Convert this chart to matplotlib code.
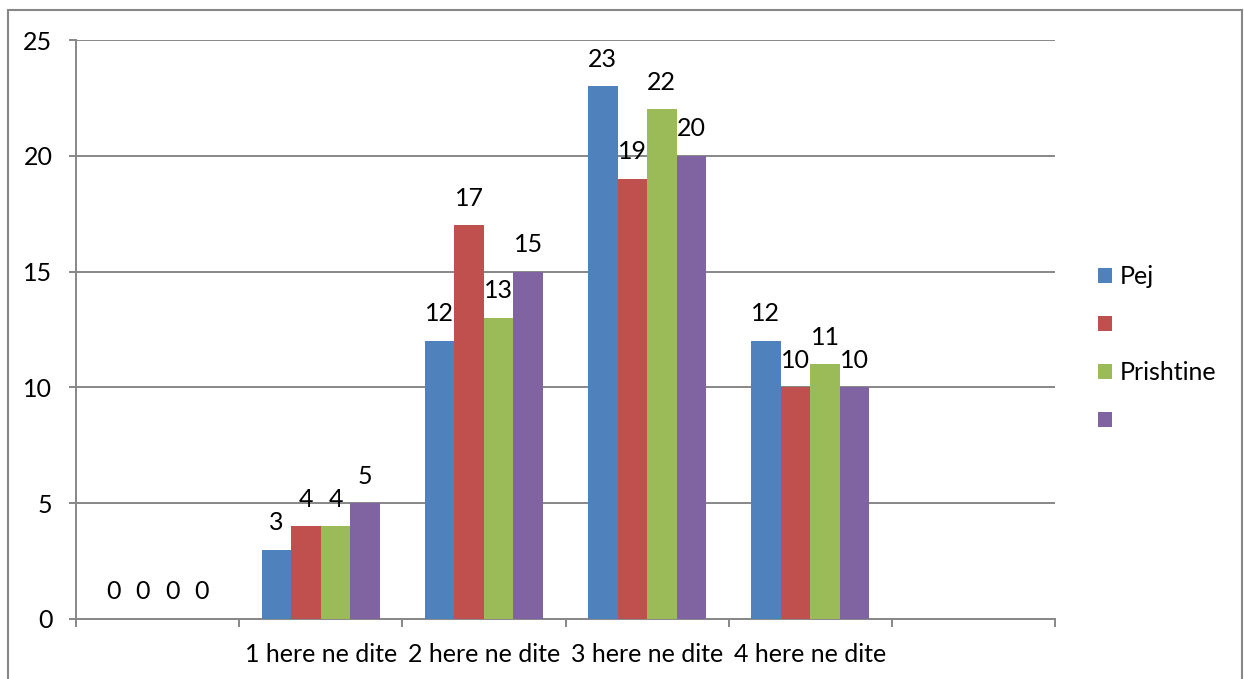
import numpy as np
import matplotlib
matplotlib.use("Agg")
import matplotlib.pyplot as plt
from matplotlib.patches import Rectangle, Patch

plt.rcParams['font.family'] = ['Lato', 'DejaVu Sans']

# category slots along the x axis (first and last are unlabelled)
categories = ["", "1 here ne dite", "2 here ne dite", "3 here ne dite", "4 here ne dite", ""]
series_names = ["Pej", "", "Prishtine", ""]
colors = ["#4F81BD", "#C0504D", "#9BBB59", "#8064A2"]

# one value per filled slot (the sixth slot has no data)
pej = [0, 3, 12, 23, 12]
s2 = [0, 4, 17, 19, 10]
prishtine = [0, 4, 13, 22, 11]
s4 = [0, 5, 15, 20, 10]
series = [pej, s2, prishtine, s4]

GRID = "#878787"
FS = 18

fig = plt.figure(figsize=(12.44, 6.79), dpi=100)
ax = fig.add_axes([76 / 1244, 1 - 619 / 679, (1055 - 76) / 1244, (619 - 40) / 679])

n = len(series)
width = 0.725 / n
x = np.arange(len(pej))
for i, (vals, col) in enumerate(zip(series, colors)):
    pos = x + (i - (n - 1) / 2) * width
    bars = ax.bar(pos, vals, width=width, color=col, zorder=3)
    for b, v in zip(bars, vals):
        ax.annotate(str(v), (b.get_x() + b.get_width() / 2, v),
                    xytext=(0, 19.5), textcoords="offset points",
                    ha="center", va="center", fontsize=FS, color="black")

ax.set_xlim(-0.5, len(categories) - 0.5)
ax.set_ylim(0, 25)
ax.set_yticks(range(0, 26, 5))
ax.yaxis.grid(True, color=GRID, linewidth=1.4, zorder=0)

# boundaries between categories carry the tick marks, labels sit in between
ax.set_xticks(np.arange(len(categories) + 1) - 0.5)
ax.set_xticklabels([])
ax.set_xticks(np.arange(len(categories)), minor=True)
ax.set_xticklabels(categories, minor=True, fontsize=FS)
ax.tick_params(axis="x", which="minor", length=0, pad=17)
ax.tick_params(axis="x", which="major", length=6, width=1.4, color=GRID)
ax.tick_params(axis="y", length=5, width=1.4, color=GRID, pad=12, labelsize=FS)

for side in ["top", "right"]:
    ax.spines[side].set_visible(False)
for side in ["left", "bottom"]:
    ax.spines[side].set_color(GRID)
    ax.spines[side].set_linewidth(1.4)

handles = [Patch(facecolor=c) for c in colors]
fig.legend(handles, series_names, loc="center left",
           bbox_to_anchor=(1098 / 1244, 1 - 349 / 679), frameon=False,
           fontsize=FS, handlelength=0.56, handleheight=0.56,
           handletextpad=0.3, labelspacing=1.0, borderpad=0,
           borderaxespad=0)

# outer chart border
fig.add_artist(Rectangle((8 / 1244, -0.02), (1242 - 8) / 1244, 1.02 - 10 / 679,
                         transform=fig.transFigure, fill=False,
                         edgecolor=GRID, linewidth=1.5, clip_on=False))

fig.savefig("out.png", dpi=100, facecolor="white")
